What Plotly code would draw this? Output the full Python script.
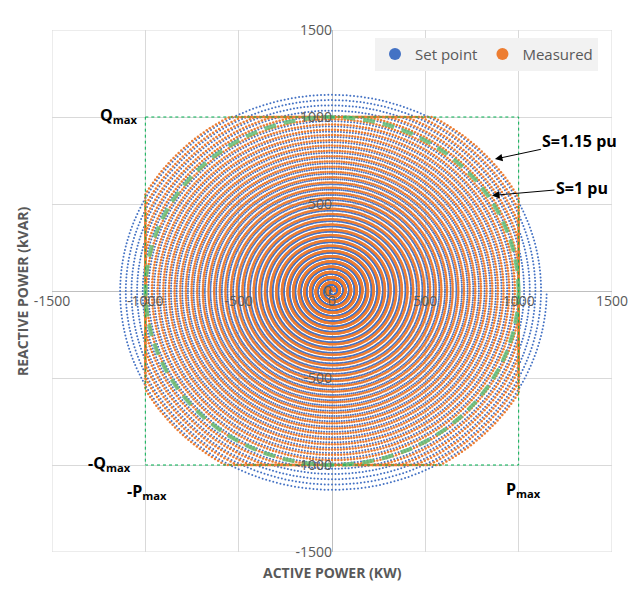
import numpy as np
import plotly.graph_objects as go

# ---- data ----
setpoint_max_radius = 1150      # kVA, outer radius of the set-point spiral (S = 1.15 pu)
spiral_turns = 38               # number of spiral turns counted
points_per_turn = 360           # samples per turn
measured_shift_deg = 130        # measured ring sits just outside the set-point ring
p_max = 1000                    # kW limit
q_max = 1000                    # kVAR limit
s_rated = 1000                  # S = 1 pu
tick_vals = [-1500, -1000, -500, 0, 500, 1000, 1500]
tick_text = ["-1500", "-1000", "-500", "0", "500", "1000", "1500"]

# set-point spiral
theta = np.arange(spiral_turns * points_per_turn) * 2 * np.pi / points_per_turn
r = setpoint_max_radius * theta / theta[-1]
sp_p = r * np.cos(theta)
sp_q = r * np.sin(theta)

# measured: follows set point, clipped to the P/Q limits
r_m = setpoint_max_radius * (theta + np.deg2rad(measured_shift_deg)) / theta[-1]
ms_p = np.clip(r_m * np.cos(theta), -p_max, p_max)
ms_q = np.clip(r_m * np.sin(theta), -q_max, q_max)

BLUE = "#4472C4"
ORANGE = "#ED7D31"
GREEN = "#00B050"
GREY = "#595959"
FONT = "Open Sans"

fig = go.Figure()
fig.add_trace(go.Scatter(x=sp_p, y=sp_q, mode="markers", name="Set point",
                         marker=dict(color=BLUE, size=2.0, line=dict(width=0))))
fig.add_trace(go.Scatter(x=ms_p, y=ms_q, mode="markers", name="Measured",
                         marker=dict(color=ORANGE, size=2.5, line=dict(width=0))))

# S = 1 pu circle (dashed green)
circ = np.linspace(0, 2 * np.pi, 721)
fig.add_trace(go.Scatter(x=s_rated * np.cos(circ), y=s_rated * np.sin(circ), mode="lines",
                         line=dict(color="rgba(100,190,120,0.85)", width=4, dash="12px,8px"),
                         showlegend=False, hoverinfo="skip"))
# P/Q limit square (dotted green)
fig.add_trace(go.Scatter(x=[-p_max, p_max, p_max, -p_max, -p_max],
                         y=[q_max, q_max, -q_max, -q_max, q_max], mode="lines",
                         line=dict(color=GREEN, width=1, dash="dot"), showlegend=False,
                         hoverinfo="skip"))

axis_common = dict(range=[-1500, 1500], tickvals=tick_vals, ticktext=tick_text,
                   showgrid=True, gridcolor="#D9D9D9", gridwidth=1,
                   zeroline=True, zerolinecolor="#BFBFBF", zerolinewidth=1,
                   showline=False, ticks="", anchor="free", position=0.5,
                   tickfont=dict(family=FONT, size=14, color=GREY))

# page body has an 8px default margin: figure is sized/offset to compensate
fig.update_layout(
    width=632, height=581,
    margin=dict(l=44, r=28, t=14, b=37),
    paper_bgcolor="white", plot_bgcolor="white",
    xaxis=dict(**axis_common),
    yaxis=dict(**axis_common),
    showlegend=True,
    legend=dict(orientation="h", x=0.975, y=0.985, xanchor="right", yanchor="top",
                bgcolor="#F2F2F2", font=dict(family=FONT, size=15, color=GREY),
                itemsizing="constant", borderwidth=0),
    font=dict(family=FONT, color=GREY),
)

# frame
fig.add_shape(type="rect", xref="x", yref="y", x0=-1500, x1=1500, y0=-1500, y1=1500,
              line=dict(color="#D9D9D9", width=1), layer="below")

ann_font = dict(family=FONT, size=16, color="black")
anns = [
    dict(x=-1000, y=1000, text="<b>Q</b><sub><b>max</b></sub>", xanchor="right", xshift=-6, yshift=2),
    dict(x=-1000, y=-1000, text="<b>-Q</b><sub><b>max</b></sub>", xanchor="right", xshift=-12, yshift=2),
    dict(x=-1000, y=-1000, text="<b>-P</b><sub><b>max</b></sub>", xanchor="center", xshift=2, yshift=-26),
    dict(x=1000, y=-1000, text="<b>P</b><sub><b>max</b></sub>", xanchor="center", xshift=5, yshift=-24),
]
for a in anns:
    fig.add_annotation(xref="x", yref="y", showarrow=False, font=ann_font, **a)

fig.add_annotation(x=873, y=758, xref="x", yref="y", ax=1328, ay=862, axref="x", ayref="y",
                   text="<b>S=1.15 pu</b>", showarrow=True, arrowhead=2, arrowsize=1.5,
                   arrowwidth=1, arrowcolor="black", font=ann_font)
fig.add_annotation(x=857, y=549, xref="x", yref="y", ax=1339, ay=594, axref="x", ayref="y",
                   text="<b>S=1 pu</b>", showarrow=True, arrowhead=2, arrowsize=1.5,
                   arrowwidth=1, arrowcolor="black", font=ann_font)

fig.add_annotation(x=0.5, y=0, xref="paper", yref="paper", yshift=-20, yanchor="middle",
                   text="<b>ACTIVE POWER (KW)</b>", showarrow=False,
                   font=dict(family=FONT, size=14, color=GREY))
fig.add_annotation(x=0, y=0.5, xref="paper", yref="paper", xshift=-30, xanchor="center",
                   text="<b>REACTIVE POWER (kVAR)</b>", showarrow=False, textangle=-90,
                   font=dict(family=FONT, size=14, color=GREY))

fig.write_html("out.html")
